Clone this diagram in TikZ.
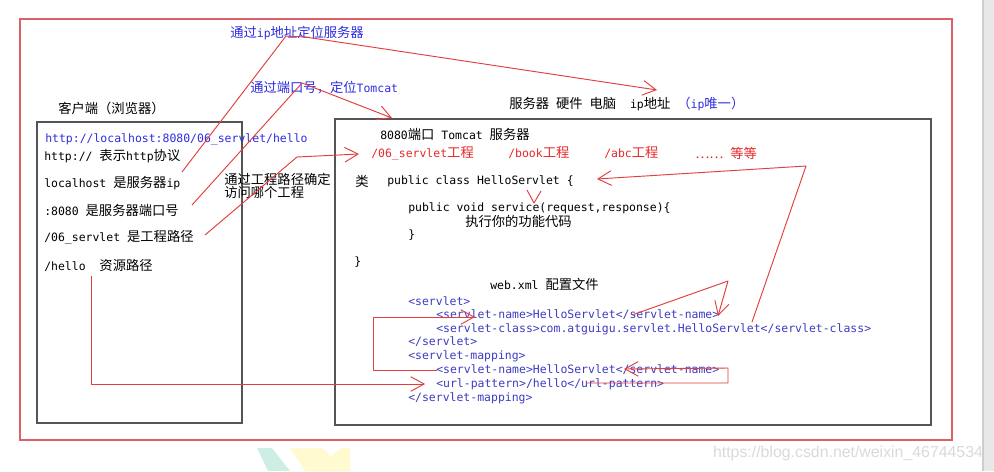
\documentclass[tikz,border=0pt]{standalone}
\usepackage{fontspec}
\setmainfont{DejaVu Sans Mono}
\newfontfamily\cjk[Scale=1.16]{Noto Sans CJK SC}
\newfontfamily\wmfont{Liberation Sans}
\usetikzlibrary{arrows.meta}
\definecolor{redl}{RGB}{226,62,62}
\definecolor{framec}{RGB}{218,96,106}
\definecolor{bluet}{RGB}{45,45,225}
\definecolor{xmlb}{RGB}{60,60,195}
\definecolor{redt}{RGB}{232,40,40}
\definecolor{boxc}{RGB}{85,85,85}
\definecolor{wmc}{RGB}{218,218,218}
\definecolor{barc}{RGB}{232,232,232}
\definecolor{baredge}{RGB}{205,205,205}
\definecolor{logot}{RGB}{205,238,228}
\definecolor{logoy}{RGB}{255,250,208}
\newcommand\zh[1]{{\cjk #1}}
\tikzset{
  txt/.style={anchor=west,inner sep=0pt,font=\fontsize{8.6}{10}\selectfont},
  xml/.style={txt,text=xmlb},
  redtxt/.style={txt,text=redt},
  bluetxt/.style={txt,text=bluet},
  conn/.style={draw=redl,line width=0.7pt,line join=round},
  tip/.style={-{Straight Barb[length=10pt,width=11pt,line width=0.7pt]}},
  panel/.style={draw=boxc,line width=0.9pt},
}
\begin{document}
\begin{tikzpicture}[x=0.75pt,y=-0.75pt]
\useasboundingbox (0,0) rectangle (994,471);
\fill[white] (0,0) rectangle (994,471);
% scrollbar and faint logo
\fill[barc] (982,0) rectangle (994,471);
\draw[baredge,line width=1.5pt] (982.5,0) -- (982.5,471);
\fill[logot] (257,448) -- (272,448) -- (290,471) -- (268,471) -- cycle;
\fill[logoy] (290,448) -- (322,448) -- (331,456) -- (341,448) -- (350,448) -- (350,471) -- (305,471) -- cycle;
\node[font=\wmfont\fontsize{11.9}{13}\selectfont,text=wmc,inner sep=0pt] (wm) at (848,453) {https://blog.csdn.net/weixin\_46744534};

% frames
\draw[framec,line width=1.5pt] (20,19) rectangle (952,440);
\draw[panel] (37,122) rectangle (242,423);
\draw[panel] (335,119) rectangle (931,425);

% client side
\node[txt] (client) at (58,108) {\zh{客户端（浏览器）}};
\node[bluetxt] (url) at (45,139) {http://localhost:8080/06\_servlet/hello};
\node[txt] (l1) at (44,156) {http:// \zh{表示}http\zh{协议}};
\node[txt] (l2) at (44,183) {localhost \zh{是服务器}ip};
\node[txt] (l3) at (44,210) {:8080 \zh{是服务器端口号}};
\node[txt] (l4) at (44,237) {/06\_servlet \zh{是工程路径}};
\node[txt] (l5) at (44,265) {/hello\ \ \zh{资源路径}};

% notes
\node[bluetxt] (ipnote) at (230,33) {\zh{通过}ip\zh{地址定位服务器}};
\node[bluetxt] (portnote) at (250,88) {\zh{通过端口号，定位}Tomcat};
\node[txt] (hw) at (509,104) {\zh{服务器} \zh{硬件} \zh{电脑}\ \ ip\zh{地址} \textcolor{bluet}{\zh{（}ip\zh{唯一）}}};
\node[txt,align=left,font=\fontsize{8.6}{9}\selectfont] (projnote) at (224,186) {\zh{通过工程路径确定}\\\zh{访问哪个工程}};

% server side
\node[txt] (tomcat) at (380,134) {8080\zh{端口} Tomcat \zh{服务器}};
\node[redtxt] (p1) at (371,153) {/06\_servlet\zh{工程}};
\node[redtxt] (p2) at (508,153) {/book\zh{工程}};
\node[redtxt] (p3) at (604,153) {/abc\zh{工程}};
\node[redtxt] (p4) at (695,153) {\zh{……} \zh{等等}};
\node[txt] (cls) at (355,181) {\zh{类}};
\node[txt] (decl) at (387,181) {public class HelloServlet \{};
\node[txt] (svc) at (408,208) {public void service(request,response)\{};
\node[txt] (exe) at (465,221) {\zh{执行你的功能代码}};
\node[txt] (rb1) at (408,235) {\}};
\node[txt] (rb2) at (354,262) {\}};
\node[txt] (webxml) at (490,284) {web.xml \zh{配置文件}};
\node[xml] (x1) at (408,301) {<servlet>};
\node[xml] (x2) at (436,315) {<servlet-name>HelloServlet</servlet-name>};
\node[xml] (x3) at (436,329) {<servlet-class>com.atguigu.servlet.HelloServlet</servlet-class>};
\node[xml] (x4) at (408,342) {</servlet>};
\node[xml] (x5) at (408,356) {<servlet-mapping>};
\node[xml] (x6) at (436,370) {<servlet-name>HelloServlet</servlet-name>};
\node[xml] (x7) at (436,384) {<url-pattern>/hello</url-pattern>};
\node[xml] (x8) at (408,398) {</servlet-mapping>};

% connector points
\coordinate (a0) at (182,172); \coordinate (a1) at (286,36); \coordinate (a2) at (305,37); \coordinate (a3) at (657,90);
\coordinate (b0) at (192,205); \coordinate (b1) at (302,83); \coordinate (b2) at (392,118);
\coordinate (c0) at (205,235); \coordinate (c1) at (297,157); \coordinate (c2) at (359,154);
\coordinate (d0) at (91,276); \coordinate (d1) at (91,384); \coordinate (d2) at (425,384);
\coordinate (e0) at (586,383); \coordinate (e1) at (728,383); \coordinate (e2) at (728,368); \coordinate (e3) at (624,369);
\coordinate (f0) at (437,370); \coordinate (f1) at (373,370); \coordinate (f2) at (373,317); \coordinate (f3) at (475,317);
\coordinate (g0) at (632,315); \coordinate (g1) at (728,281); \coordinate (g2) at (718,316);
\coordinate (h0) at (752,322); \coordinate (h1) at (806,166); \coordinate (h2) at (597,179);
\coordinate (v0) at (527,190); \coordinate (v1) at (534,203); \coordinate (v2) at (541,191);

\draw[conn,tip] (a0) -- (a1) -- (a2) -- (a3);
\draw[conn,tip] (b0) -- (b1) -- (b2);
\draw[conn,tip] (c0) -- (c1) -- (c2);
\draw[conn,tip] (d0) -- (d1) -- (d2);
\draw[conn,tip] (e0) -- (e1) -- (e2) -- (e3);
\draw[conn,tip] (f0) -- (f1) -- (f2) -- (f3);
\draw[conn,tip] (g0) -- (g1) -- (g2);
\draw[conn,tip] (h0) -- (h1) -- (h2);
\draw[conn] (v0) -- (v1) -- (v2);
\end{tikzpicture}
\end{document}
